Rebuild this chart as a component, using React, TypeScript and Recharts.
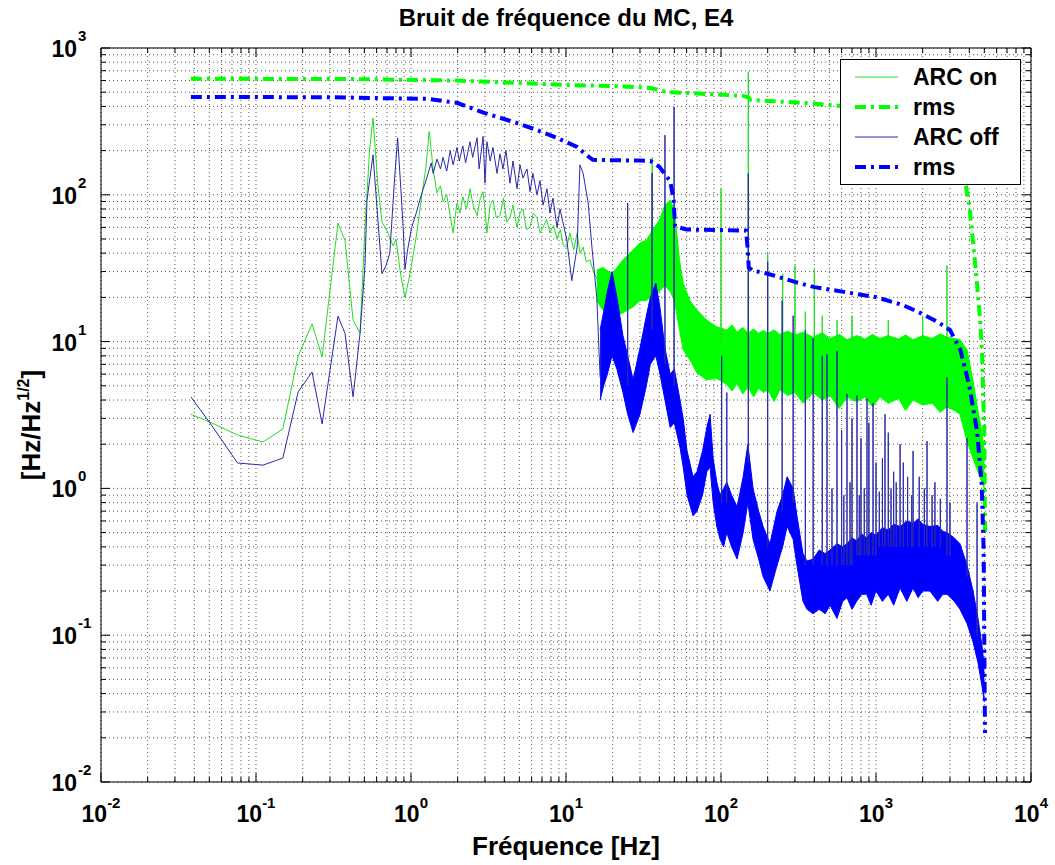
import { ComposedChart, Line, Area, XAxis, YAxis, CartesianGrid } from "recharts";

const FONT = "'Liberation Sans', Arial, Helvetica, sans-serif";
const GREEN = "#00ff00";
const GREEN_LINE = "#22dd22";
const BLUE = "#0000ff";
const BLUE_LINE = "#2a2aa8";
const RMS_DASH = "11 5 3 5";

// axis decades
const xDecades = [-2, -1, 0, 1, 2, 3, 4];
const yDecades = [-2, -1, 0, 1, 2, 3];

// ARC on, low frequency part (clean trace)
const onLineFreq = [
  0.038, 0.0505, 0.076, 0.111, 0.149, 0.187, 0.23, 0.267, 0.338, 0.375,
  0.423, 0.469, 0.505, 0.54, 0.569, 0.61, 0.65, 0.7, 0.766, 0.8,
  0.86, 0.914, 0.986, 1.09, 1.18, 1.25, 1.31, 1.39, 1.47, 1.55,
  1.61, 1.7, 1.79, 1.87, 1.98, 2.07, 2.16, 2.28, 2.4, 2.52,
  2.67, 2.8, 2.92, 3.0, 3.09, 3.24, 3.38, 3.55, 3.75, 3.95,
  4.15, 4.35, 4.55, 4.83, 5.05, 5.28, 5.55, 5.86, 6.15, 6.5,
  6.8, 7.11, 7.5, 7.88, 8.3, 8.75, 9.2, 9.6, 10.1, 10.6,
  11.2, 11.8, 12.3, 12.9, 13.5, 14.3, 15.0, 15.8, 16.5, 17.3,
];
const onLineVal = [
  3.2, 2.83, 2.31, 2.07, 2.54, 7.97, 13.2, 7.85, 64, 49,
  14, 11.4, 60, 200, 334, 120, 65, 57, 45, 50,
  28, 20, 29, 55, 103, 155, 270, 150, 103, 115,
  90, 100, 72, 55, 88, 75, 97, 80, 110, 85,
  72, 95, 105, 80, 55, 85, 92, 70, 72, 95,
  65, 70, 85, 60, 75, 80, 58, 60, 75, 70,
  55, 60, 68, 55, 62, 50, 58, 45, 44, 55,
  42, 55, 40, 44, 35, 36, 30, 27, 24, 25,
];

// ARC on, dense noise band (min / max envelope)
const onBandFreq = [
  15.8, 17.3, 19.8, 23.3, 27, 30, 33, 36, 40, 43.5,
  47, 50, 54, 57, 63, 70, 81, 94, 109, 118,
  127, 138, 150, 162, 175, 188, 201, 220, 240, 270,
  300, 340, 393, 450, 505, 580, 650, 750, 850, 950,
  1062, 1200, 1400, 1550, 1734, 2000, 2300, 2600, 2871, 3200,
  3482, 3866, 4227, 4550, 4829, 5000,
];
const onBandLo = [
  19, 16.4, 14.7, 15.7, 17.2, 19, 19, 20.5, 22, 24,
  22, 19, 12, 8.8, 7.5, 6.1, 5.5, 5.6, 5.1, 4.6,
  5.2, 4.4, 4.9, 4.2, 4.8, 4.5, 4.7, 3.9, 4.7, 4.3,
  4.5, 3.8, 4.5, 4.0, 4.3, 3.5, 4.2, 3.9, 4.2, 3.6,
  4.2, 3.8, 4.1, 3.4, 4.0, 3.7, 3.8, 3.3, 3.6, 3.4,
  3.2, 2.1, 1.6, 1.3, 1.1, 1.0,
];
const onBandHi = [
  30.7, 32, 29, 36, 42, 47, 49, 57, 67, 85,
  92, 79, 36, 25, 19, 16.4, 14, 12.6, 12, 13,
  11.6, 12.5, 11.4, 12.2, 11.4, 11.9, 11.4, 12, 11.2, 11.8,
  11.1, 11.6, 10.7, 11.5, 10.5, 11.2, 10.3, 11, 10.4, 11.2,
  10.5, 11, 10.4, 11.1, 10.3, 11, 10.5, 11.3, 10.7, 10.5,
  10.3, 8.8, 5.4, 3.4, 2.4, 1.8,
];

// ARC on, narrow lines
const onSpikeFreq = [36, 100, 150, 200, 250, 300, 350, 400, 450, 560, 700, 1200, 2000, 2871];
const onSpikeTop = [180, 110, 690, 40, 29, 33, 16, 31, 15, 14, 15, 14, 15, 33];
const onSpikeBase = [40, 10, 10, 10, 10, 10, 10, 10, 10, 10, 10, 10, 10, 10];

// ARC on, cumulative rms
const onRmsFreq = [
  0.038, 0.4, 2, 4.8, 10, 21, 35, 45, 60, 140,
  150, 155, 200, 350, 500, 1000, 2000, 3000, 3500, 3800,
  4000, 4400, 4700, 4830, 4900, 5000, 5050,
];
const onRmsVal = [
  617, 615, 600, 578, 560, 550, 535, 500, 494, 472,
  460, 443, 436, 422, 409, 385, 315, 222, 145, 115,
  85, 31, 14, 8.4, 4.9, 2.5, 0.5,
];

// ARC off, low frequency part
const offLineFreq = [
  0.038, 0.0505, 0.076, 0.111, 0.149, 0.187, 0.23, 0.267, 0.338, 0.375,
  0.423, 0.469, 0.505, 0.52, 0.569, 0.61, 0.65, 0.69, 0.73, 0.78,
  0.82, 0.86, 0.89, 0.914, 0.95, 1.01, 1.08, 1.14, 1.2, 1.27,
  1.35, 1.39, 1.47, 1.55, 1.61, 1.7, 1.79, 1.87, 1.98, 2.05,
  2.16, 2.25, 2.4, 2.5, 2.67, 2.75, 2.92, 3.0, 3.09, 3.24,
  3.38, 3.59, 3.75, 3.92, 4.1, 4.35, 4.55, 4.83, 5.05, 5.28,
  5.6, 5.86, 6.12, 6.5, 6.79, 7.11, 7.54, 7.88, 8.24, 8.75,
  9.15, 10.1, 10.9, 11.8, 12.3, 12.9, 13.9, 14.7, 15.8, 16.6,
];
const offLineVal = [
  4.2, 2.79, 1.49, 1.44, 1.61, 4.54, 6.21, 2.75, 14.9, 11.4,
  4.2, 11.4, 33, 92, 187, 70, 29, 33, 40, 120,
  244, 110, 60, 31, 42, 60, 75, 92, 110, 132,
  165, 140, 175, 150, 180, 145, 200, 160, 210, 170,
  215, 165, 230, 180, 245, 150, 250, 120, 230, 170,
  210, 140, 190, 150, 200, 120, 170, 110, 160, 130,
  150, 105, 140, 100, 125, 85, 110, 75, 95, 60,
  80, 50, 26, 44, 160, 140, 88, 44, 20, 5.7,
];

// ARC off, dense noise band
const offBandFreq = [
  16.6, 17.5, 18.5, 19.8, 21.3, 23.3, 25, 27.1, 30, 33,
  35, 38, 40.4, 43.5, 47, 50, 54.4, 57, 60.4, 66,
  70, 76, 81, 85, 89, 94, 98.6, 104, 109, 117,
  127, 139, 149, 161, 175, 187, 207, 230, 250, 267,
  292, 309, 338, 359, 393, 430, 470, 505, 560, 610,
  650, 700, 750, 810, 870, 930, 1000, 1100, 1200, 1300,
  1430, 1580, 1734, 1870, 2000, 2230, 2500, 2700, 2871, 3200,
  3482, 3866, 4227, 4550, 4829, 5000,
];
const offBandLo = [
  4.0, 5.0, 6.0, 8.0, 6.5, 4.5, 3.2, 2.4, 3.2, 5.0,
  7.0, 8.0, 6.0, 4.0, 2.6, 2.8, 1.9, 1.4, 0.9, 0.65,
  0.7, 0.9, 1.3, 1.4, 0.8, 0.55, 0.45, 0.4, 0.5, 0.4,
  0.33, 0.5, 0.8, 0.45, 0.33, 0.25, 0.2, 0.3, 0.4, 0.55,
  0.45, 0.3, 0.17, 0.15, 0.14, 0.15, 0.14, 0.16, 0.13, 0.17,
  0.18, 0.15, 0.17, 0.19, 0.19, 0.16, 0.2, 0.17, 0.19, 0.16,
  0.21, 0.17, 0.21, 0.18, 0.2, 0.2, 0.17, 0.19, 0.19, 0.17,
  0.15, 0.12, 0.09, 0.065, 0.045, 0.035,
];
const offBandHi = [
  12, 16, 22, 30, 20, 11, 8, 5.5, 9, 15,
  20, 25, 17, 9, 6, 6.5, 4.0, 3.0, 1.8, 1.2,
  1.3, 1.8, 2.6, 3.2, 1.6, 1.1, 0.9, 1.0, 1.1, 0.9,
  0.75, 1.2, 2.0, 1.0, 0.7, 0.55, 0.42, 0.7, 0.9, 1.2,
  1.0, 0.65, 0.36, 0.32, 0.33, 0.38, 0.36, 0.38, 0.42, 0.4,
  0.42, 0.46, 0.44, 0.49, 0.46, 0.5, 0.48, 0.54, 0.52, 0.57,
  0.55, 0.6, 0.58, 0.62, 0.57, 0.55, 0.56, 0.51, 0.5, 0.46,
  0.42, 0.3, 0.2, 0.13, 0.085, 0.06,
];

// ARC off, narrow lines
const offSpikeFreq = [
  25, 35.9, 43.5, 49.8, 101, 109, 150, 200, 248, 292,
  350, 393, 450, 483, 520, 560, 600, 620, 650, 680,
  700, 754, 780, 800, 840, 875, 900, 957, 1000, 1050,
  1100, 1143, 1200, 1250, 1300, 1350, 1430, 1500, 1600, 1700,
  1734, 1900, 2050, 2134, 2300, 2400, 2600, 2871, 3000, 3866, 4487,
];
const offSpikeTop = [
  88, 141, 255, 396, 8, 4.5, 140, 35, 19, 15,
  12, 10.5, 8, 8.2, 1.0, 8.6, 2.5, 0.9, 4.4, 1.1,
  3, 4.3, 0.9, 2.2, 1.0, 4.1, 2.8, 3.8, 1.5, 0.95,
  1.6, 3.2, 2.4, 1.0, 1.3, 1.1, 2.0, 1.5, 1.2, 0.9,
  1.8, 1.2, 1.0, 2.1, 0.9, 1.1, 0.85, 5.7, 0.8, 2.2, 0.8,
];
const offSpikeBase = [
  5, 12, 7, 5, 0.8, 0.8, 1.5, 0.4, 0.7, 0.8,
  0.3, 0.3, 0.3, 0.3, 0.3, 0.3, 0.3, 0.3, 0.3, 0.3,
  0.3, 0.35, 0.35, 0.35, 0.35, 0.35, 0.35, 0.35, 0.35, 0.4,
  0.4, 0.4, 0.4, 0.4, 0.4, 0.4, 0.4, 0.4, 0.4, 0.4,
  0.4, 0.4, 0.4, 0.4, 0.4, 0.4, 0.4, 0.35, 0.35, 0.25, 0.1,
];

// ARC off, cumulative rms
const offRmsFreq = [
  0.038, 0.3, 1.3, 2, 3, 4.8, 6.5, 8.75, 11.8, 13.5,
  14.9, 20, 30, 35, 40, 47, 49.5, 50.5, 60, 100,
  145, 149, 151, 160, 200, 300, 400, 1000, 1500, 2000,
  2500, 3000, 3500, 4000, 4500, 4800, 4950, 5000, 5050,
];
const offRmsVal = [
  464, 462, 450, 422, 360, 309, 276, 244, 212, 187,
  173, 172, 171, 170, 155, 124, 92, 61, 58, 57.5,
  57, 42, 32, 30.5, 29, 25.5, 23.5, 20.1, 17.7, 15.4,
  13.6, 12.0, 8.8, 5.0, 2.4, 1.09, 0.38, 0.08, 0.0216,
];

const pts = (fs: number[], vs: number[]) => fs.map((f, i) => ({ f, v: vs[i] }));
const band = (fs: number[], lo: number[], hi: number[]) =>
  fs.map((f, i) => ({ f, range: [lo[i], hi[i]] }));
const spikes = (fs: number[], base: number[], top: number[]) =>
  fs.flatMap((f, i) => [
    { f, v: base[i] },
    { f, v: top[i] },
    { f, v: base[i] },
    { f, v: null },
  ]);

const logTicks = (decades: number[]) => {
  const out: number[] = [];
  decades.slice(0, -1).forEach((d) => {
    for (let m = 1; m <= 9; m++) out.push(Number((m * Math.pow(10, d)).toPrecision(6)));
  });
  out.push(Math.pow(10, decades[decades.length - 1]));
  return out;
};
const xTicks = logTicks(xDecades);
const yTicks = logTicks(yDecades);

const isMajor = (v: number) => Math.abs(Math.log10(v) - Math.round(Math.log10(v))) < 1e-6;
const expOf = (v: number) => String(Math.round(Math.log10(v)));

const labelStyle = { fontFamily: FONT, fontWeight: "bold" as const, fill: "#000" };

function BottomTick({ x, y, payload }: any) {
  const v = payload.value;
  const major = isMajor(v);
  return (
    <g>
      <line x1={x} x2={x} y1={y} y2={y - (major ? 9 : 5)} stroke="#000" />
      {major && (
        <text x={x} y={y + 40} textAnchor="middle" fontSize={23} {...labelStyle}>
          10<tspan dy={-14} fontSize={15}>{expOf(v)}</tspan>
        </text>
      )}
    </g>
  );
}

function TopTick({ x, y, payload }: any) {
  const major = isMajor(payload.value);
  return <line x1={x} x2={x} y1={y} y2={y + (major ? 9 : 5)} stroke="#000" />;
}

function LeftTick({ x, y, payload }: any) {
  const v = payload.value;
  const major = isMajor(v);
  return (
    <g>
      <line x1={x} x2={x + (major ? 9 : 5)} y1={y} y2={y} stroke="#000" />
      {major && (
        <g>
          <text x={x - 24} y={y + 9} textAnchor="end" fontSize={23} {...labelStyle}>10</text>
          <text x={x - 23} y={y - 7} textAnchor="start" fontSize={15} {...labelStyle}>{expOf(v)}</text>
        </g>
      )}
    </g>
  );
}

function RightTick({ x, y, payload }: any) {
  const major = isMajor(payload.value);
  return <line x1={x} x2={x - (major ? 9 : 5)} y1={y} y2={y} stroke="#000" />;
}

function TitleLabel({ viewBox }: any) {
  return (
    <text x={viewBox.x + viewBox.width / 2} y={viewBox.y + viewBox.height - 22} textAnchor="middle"
      fontSize={24} {...labelStyle}>
      Bruit de fréquence du MC, E4
    </text>
  );
}

function XLabel({ viewBox }: any) {
  return (
    <text x={viewBox.x + viewBox.width / 2} y={viewBox.y + 73} textAnchor="middle" fontSize={26} {...labelStyle}>
      Fréquence [Hz]
    </text>
  );
}

function YLabel({ viewBox }: any) {
  const cx = viewBox.x + viewBox.width - 61;
  const cy = viewBox.y + viewBox.height / 2 + 10;
  return (
    <text x={cx} y={cy} textAnchor="middle" fontSize={26} transform={`rotate(-90, ${cx}, ${cy})`} {...labelStyle}>
      [Hz/Hz<tspan dy={-11} fontSize={16}>1/2</tspan><tspan dy={11}>]</tspan>
    </text>
  );
}

const legendRows = [
  { label: "ARC on", color: GREEN_LINE, width: 1, dash: undefined as string | undefined },
  { label: "rms", color: GREEN, width: 4, dash: RMS_DASH },
  { label: "ARC off", color: BLUE_LINE, width: 1, dash: undefined },
  { label: "rms", color: BLUE, width: 4, dash: RMS_DASH },
];

function LegendBox() {
  return (
    <svg width={182} height={127} style={{ position: "absolute", left: 840, top: 59 }}>
      <rect x={0.5} y={0.5} width={180} height={125} fill="#fff" stroke="#000" />
      {legendRows.map((r, i) => (
        <g key={i}>
          <line x1={15} x2={58} y1={18 + 30 * i} y2={18 + 30 * i} stroke={r.color}
            strokeWidth={r.width} strokeDasharray={r.dash} />
          <text x={73} y={26 + 30 * i} fontSize={23} {...labelStyle}>{r.label}</text>
        </g>
      ))}
    </svg>
  );
}

export default function App() {
  return (
    <div style={{ position: "absolute", left: 0, top: 0, width: 1055, height: 865, background: "#fff" }}>
      <ComposedChart width={1055} height={865} margin={{ top: 18, right: 14, bottom: 43, left: 41 }}>
        <CartesianGrid stroke="#555" strokeDasharray="1 3" />
        <XAxis dataKey="f" type="number" scale="log" domain={[0.01, 10000]} ticks={xTicks}
          interval={0} height={40} tickSize={0} tickMargin={0} tickLine={false}
          tick={<BottomTick />} axisLine={{ stroke: "#000" }} allowDataOverflow
          label={<XLabel />} />
        <XAxis xAxisId="top" orientation="top" dataKey="f" type="number" scale="log"
          domain={[0.01, 10000]} ticks={xTicks} interval={0} height={30} tickSize={0}
          tickMargin={0} tickLine={false} tick={<TopTick />} axisLine={{ stroke: "#000" }}
          allowDataOverflow label={<TitleLabel />} />
        <YAxis type="number" scale="log" domain={[0.01, 1000]} ticks={yTicks} interval={0}
          width={60} tickSize={0} tickMargin={0} tickLine={false} tick={<LeftTick />}
          axisLine={{ stroke: "#000" }} allowDataOverflow label={<YLabel />} />
        <YAxis yAxisId="right" orientation="right" type="number" scale="log" domain={[0.01, 1000]}
          ticks={yTicks} interval={0} width={10} tickSize={0} tickMargin={0} tickLine={false}
          tick={<RightTick />} axisLine={{ stroke: "#000" }} allowDataOverflow />

        <Area data={band(onBandFreq, onBandLo, onBandHi)} dataKey="range" type="linear"
          stroke={GREEN} strokeWidth={1} fill={GREEN} fillOpacity={1} dot={false}
          activeDot={false} isAnimationActive={false} />
        <Line data={pts(onLineFreq, onLineVal)} dataKey="v" type="linear" stroke={GREEN_LINE}
          strokeWidth={1} dot={false} activeDot={false} isAnimationActive={false} />
        <Line data={spikes(onSpikeFreq, onSpikeBase, onSpikeTop)} dataKey="v" type="linear"
          stroke={GREEN_LINE} strokeWidth={1} dot={false} activeDot={false} isAnimationActive={false} />
        <Line data={pts(onRmsFreq, onRmsVal)} dataKey="v" type="linear" stroke={GREEN}
          strokeWidth={4} strokeDasharray={RMS_DASH} dot={false} activeDot={false}
          isAnimationActive={false} />

        <Line data={pts(offLineFreq, offLineVal)} dataKey="v" type="linear" stroke={BLUE_LINE}
          strokeWidth={1} dot={false} activeDot={false} isAnimationActive={false} />
        <Area data={band(offBandFreq, offBandLo, offBandHi)} dataKey="range" type="linear"
          stroke={BLUE} strokeWidth={1} fill={BLUE} fillOpacity={1} dot={false}
          activeDot={false} isAnimationActive={false} />
        <Line data={spikes(offSpikeFreq, offSpikeBase, offSpikeTop)} dataKey="v" type="linear"
          stroke={BLUE_LINE} strokeWidth={1} dot={false} activeDot={false} isAnimationActive={false} />
        <Line data={pts(offRmsFreq, offRmsVal)} dataKey="v" type="linear" stroke={BLUE}
          strokeWidth={4} strokeDasharray={RMS_DASH} dot={false} activeDot={false}
          isAnimationActive={false} />
      </ComposedChart>
      <LegendBox />
    </div>
  );
}
